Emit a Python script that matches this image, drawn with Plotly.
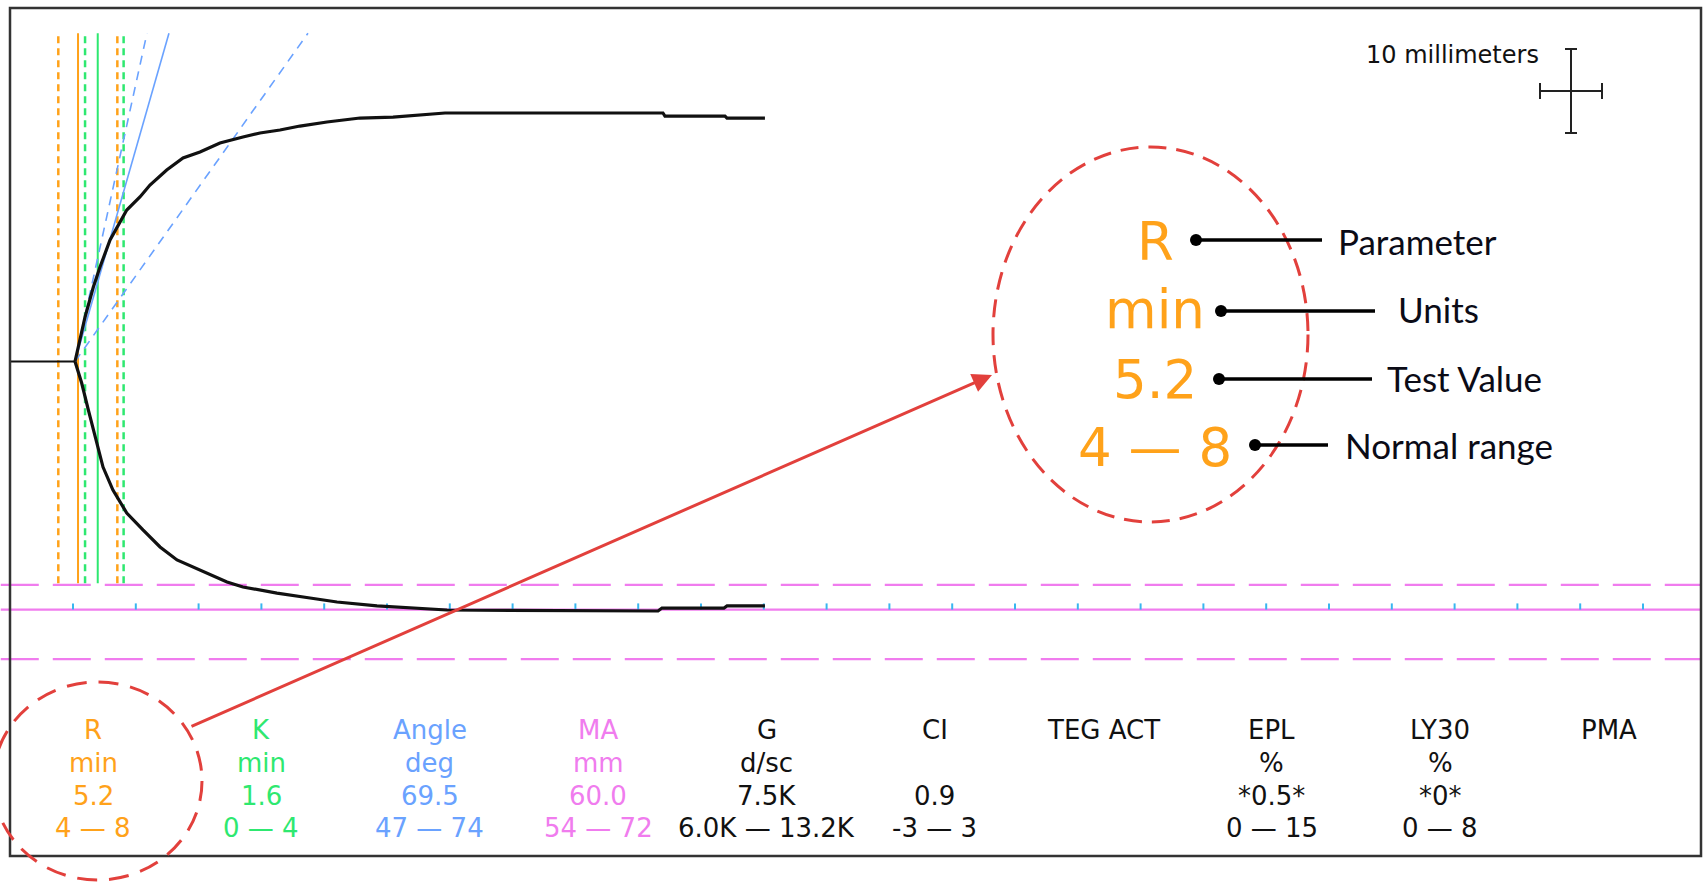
import plotly.graph_objects as go

W, H = 1706, 882

# ---------------- data (minutes / millimetres) ----------------
time_flat = [0.0, 5.16]
amp_flat = [0.0, 0.0]

time_upper = [5.16, 5.96, 6.62, 7.15, 7.95, 8.88, 9.28, 10.33, 11.13, 12.46, 13.76, 15.11,
              16.70, 18.53, 19.89, 21.48, 23.07, 25.22, 27.85, 30.48, 32.63, 34.62, 51.97,
              52.13, 56.91, 57.07, 60.09]
amp_upper = [0.0, 5.38, 9.01, 11.43, 14.69, 17.35, 18.32, 19.89, 21.34, 23.16, 24.61, 25.33,
             26.42, 27.14, 27.63, 27.99, 28.47, 28.96, 29.44, 29.56, 29.80, 30.05, 30.05,
             29.68, 29.68, 29.44, 29.44]

time_lower = [5.16, 5.69, 6.22, 6.89, 7.39, 8.18, 9.28, 10.57, 11.93, 13.28, 14.55, 15.91,
              17.26, 18.53, 21.24, 23.87, 26.02, 29.20, 31.83, 34.78, 51.58, 51.89, 56.83,
              57.07, 60.09]
amp_lower = [0.0, -2.60, -5.86, -9.85, -12.76, -15.54, -18.32, -20.37, -22.43, -24.00, -24.85,
             -25.82, -26.66, -27.27, -28.00, -28.60, -29.08, -29.56, -29.81, -30.05, -30.17,
             -29.81, -29.81, -29.56, -29.56]

r_time = 5.4
r_range_times = [3.83, 8.53]
k_time = 6.97
k_range_times = [5.96, 9.03]

angle_origin = [5.16, 0.0]
angle_top_mm = 39.7
angle_solid_top = 12.64
angle_dash_tops = [10.89, 23.71]

vline_span = [-26.8, 39.7]
ma_half = -30.0
ma_range_half = [-27.0, -36.0]
tick_times = list(range(5, 135, 5))
trace_end = [-0.75, 134.6]

params = ["R", "K", "Angle", "MA", "G", "CI", "TEG ACT", "EPL", "LY30", "PMA"]
units = ["min", "min", "deg", "mm", "d/sc", "", "", "%", "%", ""]
values = ["5.2", "1.6", "69.5", "60.0", "7.5K", "0.9", "", "*0.5*", "*0*", ""]
ranges = ["4 — 8", "0 — 4", "47 — 74", "54 — 72", "6.0K — 13.2K", "-3 — 3", "", "0 — 15", "0 — 8", ""]

callout_rows = ["R", "min", "5.2", "4 — 8"]
callout_labels = ["Parameter", "Units", "Test Value", "Normal range"]

# ---------------- styling ----------------
ORANGE = "#ffa21a"
GREEN = "#2ee870"
BLUE = "#6aa2ff"
MAGENTA = "#f07cee"
CYAN = "#38b6f0"
RED = "#e2403c"
INK = "#111111"
col_colors = [ORANGE, GREEN, BLUE, MAGENTA, INK, INK, INK, INK, INK, INK]

X0_PX, PX_PER_MIN = 10.2, 12.56
Y0_PX, PX_PER_MM = 361.5, 8.27


def xr(px):
    return (px - X0_PX) / PX_PER_MIN


def yr(py):
    return (Y0_PX - py) / PX_PER_MM


def PX(px):
    return px / W


def PY(py):
    return 1 - py / H


def vlines(times, y0, y1):
    xs, ys = [], []
    for t in times:
        xs += [t, t, None]
        ys += [y0, y1, None]
    return xs, ys


fig = go.Figure()

# vertical reference lines
for times, color, dash, width in [
    (r_range_times, ORANGE, "7px,5px", 2.5),
    ([r_time], ORANGE, "solid", 2),
    (k_range_times, GREEN, "7px,5px", 2.5),
    ([k_time], GREEN, "solid", 2),
]:
    xs, ys = vlines(times, vline_span[0], vline_span[1])
    fig.add_trace(go.Scatter(x=xs, y=ys, mode="lines", hoverinfo="skip",
                             line=dict(color=color, dash=dash, width=width)))

# angle lines
xs, ys = [], []
for t in angle_dash_tops:
    xs += [angle_origin[0], t, None]
    ys += [angle_origin[1], angle_top_mm, None]
fig.add_trace(go.Scatter(x=xs, y=ys, mode="lines", hoverinfo="skip",
                         line=dict(color=BLUE, dash="9px,7px", width=1.6)))
fig.add_trace(go.Scatter(x=[angle_origin[0], angle_solid_top], y=[angle_origin[1], angle_top_mm],
                         mode="lines", hoverinfo="skip", line=dict(color=BLUE, width=1.6)))

# MA lines
for yv in ma_range_half:
    fig.add_trace(go.Scatter(x=trace_end, y=[yv, yv], mode="lines", hoverinfo="skip",
                             line=dict(color=MAGENTA, dash="38px,14px", width=2.2)))
fig.add_trace(go.Scatter(x=trace_end, y=[ma_half, ma_half], mode="lines", hoverinfo="skip",
                         line=dict(color=MAGENTA, width=2.2)))

# time ticks
xs, ys = vlines(tick_times, ma_half, ma_half + 0.75)
fig.add_trace(go.Scatter(x=xs, y=ys, mode="lines", hoverinfo="skip",
                         line=dict(color=CYAN, width=2)))

# trace
fig.add_trace(go.Scatter(x=time_flat, y=amp_flat, mode="lines", hoverinfo="skip",
                         line=dict(color="#111", width=2)))
fig.add_trace(go.Scatter(x=time_upper, y=amp_upper, mode="lines", hoverinfo="skip",
                         line=dict(color="#111", width=3.2)))
fig.add_trace(go.Scatter(x=time_lower, y=amp_lower, mode="lines", hoverinfo="skip",
                         line=dict(color="#111", width=3.2)))

shapes = []
annotations = []

# border
shapes.append(dict(type="rect", xref="paper", yref="paper", x0=PX(10), x1=PX(1701),
                   y0=PY(856), y1=PY(8), line=dict(color="#333", width=2.5), layer="above"))

# scale bar
sb = dict(xref="paper", yref="paper", type="line", line=dict(color="#222", width=2), layer="above")
shapes += [
    dict(sb, x0=PX(1571), x1=PX(1571), y0=PY(49), y1=PY(133)),
    dict(sb, x0=PX(1565), x1=PX(1577), y0=PY(49), y1=PY(49)),
    dict(sb, x0=PX(1565), x1=PX(1577), y0=PY(133), y1=PY(133)),
    dict(sb, x0=PX(1540), x1=PX(1602), y0=PY(91), y1=PY(91)),
    dict(sb, x0=PX(1540), x1=PX(1540), y0=PY(83), y1=PY(99)),
    dict(sb, x0=PX(1602), x1=PX(1602), y0=PY(83), y1=PY(99)),
]
annotations.append(dict(xref="paper", yref="paper", x=PX(1541), y=PY(55), text="10 millimeters",
                        showarrow=False, xanchor="right", yanchor="middle",
                        font=dict(family="DejaVu Sans", size=24, color="#111")))

# ellipses
shapes.append(dict(type="circle", xref="paper", yref="paper", x0=PX(993), x1=PX(1308),
                   y0=PY(522), y1=PY(147), line=dict(color=RED, width=3, dash="18px,10px"),
                   layer="above"))
shapes.append(dict(type="circle", xref="paper", yref="paper", x0=PX(-7), x1=PX(202),
                   y0=PY(880), y1=PY(682), line=dict(color=RED, width=3, dash="20px,12px"),
                   layer="above"))

# arrow
annotations.append(dict(xref="paper", yref="paper", x=PX(992), y=PY(375), ax=190 - 992, ay=727 - 375,
                        axref="pixel", ayref="pixel", text="", showarrow=True, arrowhead=2,
                        arrowsize=1.3, arrowwidth=3, arrowcolor=RED, standoff=0))

# table
col_x0, col_dx = 93, 168.4
row_y = [730, 763, 796, 828]
for i in range(len(params)):
    cx = col_x0 + col_dx * i
    for r, txt in enumerate([params[i], units[i], values[i], ranges[i]]):
        if not txt:
            continue
        annotations.append(dict(xref="paper", yref="paper", x=PX(cx), y=PY(row_y[r]), text=txt,
                                showarrow=False, xanchor="center", yanchor="middle",
                                font=dict(family="DejaVu Sans", size=26, color=col_colors[i])))

# callout
callout_y = [241, 309, 380, 447]
for r, txt in enumerate(callout_rows):
    annotations.append(dict(xref="paper", yref="paper", x=PX(1155), y=PY(callout_y[r]), text=txt,
                            showarrow=False, xanchor="center", yanchor="middle",
                            font=dict(family="DejaVu Sans", size=53, color=ORANGE)))

lead_y = [240, 311, 379, 445]
lead_x0 = [1196, 1221, 1219, 1255]
lead_x1 = [1322, 1375, 1372, 1328]
label_x = [1336, 1396, 1385, 1343]
label_y = [241, 309, 378, 445]
for r, lab in enumerate(callout_labels):
    shapes.append(dict(type="line", xref="paper", yref="paper", x0=PX(lead_x0[r]), x1=PX(lead_x1[r]),
                       y0=PY(lead_y[r]), y1=PY(lead_y[r]), line=dict(color="#000", width=3.5),
                       layer="above"))
    shapes.append(dict(type="circle", xref="paper", yref="paper", x0=PX(lead_x0[r] - 6),
                       x1=PX(lead_x0[r] + 6), y0=PY(lead_y[r] + 6), y1=PY(lead_y[r] - 6),
                       fillcolor="#000", line=dict(color="#000", width=0), layer="above"))
    annotations.append(dict(xref="paper", yref="paper", x=PX(label_x[r]), y=PY(label_y[r]), text=lab,
                            showarrow=False, xanchor="left", yanchor="middle",
                            font=dict(family="Lato", size=35, color="#0b0b16")))

fig.update_layout(
    width=W, height=H, margin=dict(l=0, r=0, t=0, b=0),
    paper_bgcolor="white", plot_bgcolor="white", showlegend=False,
    xaxis=dict(range=[xr(0), xr(W)], visible=False, fixedrange=True),
    yaxis=dict(range=[yr(H), yr(0)], visible=False, fixedrange=True),
    shapes=shapes, annotations=annotations,
)

fig.write_html("out.html", config={"displayModeBar": False})
